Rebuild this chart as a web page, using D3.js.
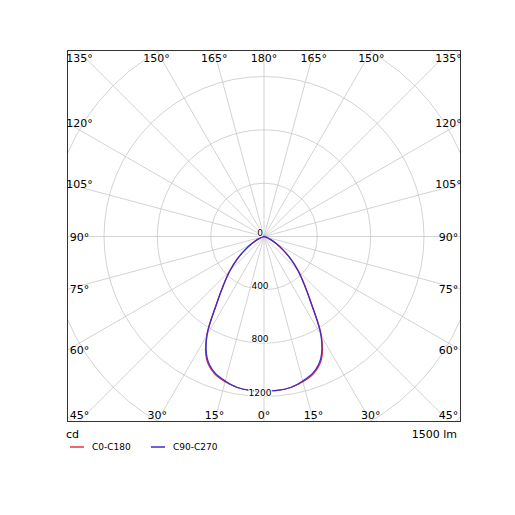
<!DOCTYPE html><html><head><script src="https://cdn.jsdelivr.net/npm/d3@7"></script>
<style>body{margin:0;background:#fff}text{font-family:"DejaVu Sans",sans-serif}</style></head><body><svg width="515" height="515"></svg>
<script>
const gammas=[0,5,10,15,20,25,30,35,40,45,50,55,60,65,70,75,80,85,90];
const c0c180=[1155,1158,1150,1128,1092,1018,860,625,472,362,262,172,104,57,27,11,4,1,0];
const c90c270=[1155,1158,1150,1122,1085,1008,855,622,470,360,260,171,103,56,27,11,4,1,0];
const ringValues=[0,400,800,1200,1600,2000,2400];
const angleLabels=[0,15,30,45,60,75,90,105,120,135,150,165,180];
const seriesNames=["C0-C180","C90-C270"];
const colors=["#e8333f","#3b2ccc"];
const svg=d3.select("svg");
const L=67.5,R=460.5,T=50.5,B=421.5,cx=264,cy=236.5;
const r=d3.scaleLinear().domain([0,1200]).range([0,160]);
const defs=svg.append("defs");
defs.append("clipPath").attr("id","c").append("rect").attr("x",L).attr("y",T).attr("width",R-L).attr("height",B-T);
const g=svg.append("g").attr("clip-path","url(#c)");
ringValues.slice(1).forEach(v=>g.append("circle").attr("cx",cx).attr("cy",cy).attr("r",r(v)).attr("fill","none").attr("stroke","#c8c8c8").attr("stroke-width",0.8));
const pt=(gm,v,side)=>{const a=gm*Math.PI/180;return [cx+side*Math.sin(a)*r(v),cy+Math.cos(a)*r(v)];};
for(let a=0;a<360;a+=15){const t=a*Math.PI/180;g.append("line").attr("x1",cx).attr("y1",cy).attr("x2",cx+Math.sin(t)*400).attr("y2",cy+Math.cos(t)*400).attr("stroke","#c8c8c8").attr("stroke-width",0.8);}
[c0c180,c90c270].forEach((s,i)=>{
 const pts=[];for(let k=gammas.length-1;k>=0;k--)pts.push(pt(gammas[k],s[k],-1));for(let k=1;k<gammas.length;k++)pts.push(pt(gammas[k],s[k],1));
 g.append("path").attr("d",d3.line().curve(d3.curveCatmullRom.alpha(0.5))(pts)).attr("fill","none").attr("stroke",colors[i]).attr("stroke-width",1.3);
});
ringValues.slice(0,4).forEach(v=>svg.append("text").attr("x",cx-4).attr("y",cy+r(v)-1).attr("text-anchor","middle").attr("font-size",9).attr("stroke","#fff").attr("stroke-width",2).attr("paint-order","stroke").text(v));
svg.append("rect").attr("x",L).attr("y",T).attr("width",R-L).attr("height",B-T).attr("fill","none").attr("stroke","#333").attr("stroke-width",1);
angleLabels.forEach(a=>{
 [-1,1].forEach(side=>{
  if((a===0||a===180)&&side===1)return;
  const t=a*Math.PI/180,dx=side*Math.sin(t),dy=Math.cos(t);
  let s=Infinity;if(dx!==0)s=Math.min(s,((dx>0?R:L)-cx)/dx);if(dy!==0)s=Math.min(s,((dy>0?B:T)-cy)/dy);
  let x=cx+dx*s,y=cy+dy*s;
  x=Math.max(L+12,Math.min(R-12,x));
  if(Math.abs(dy*s-(dy>0?B-cy:T-cy))<0.5&&dy!==0){y=dy>0?B-3:T+11;}else{y=y+4;}
  svg.append("text").attr("x",x).attr("y",y).attr("text-anchor","middle").attr("font-size",11).text(a+"°");
 });
});
svg.append("text").attr("x",66).attr("y",438).attr("font-size",11).text("cd");
svg.append("text").attr("x",457).attr("y",438).attr("text-anchor","end").attr("font-size",11).text("1500 lm");
seriesNames.forEach((n,i)=>{const x0=70+i*81;
 svg.append("line").attr("x1",x0).attr("x2",x0+14).attr("y1",447).attr("y2",447).attr("stroke",colors[i]).attr("stroke-width",1.5);
 svg.append("text").attr("x",x0+22).attr("y",450).attr("font-size",9).text(n);});
</script></body></html>
